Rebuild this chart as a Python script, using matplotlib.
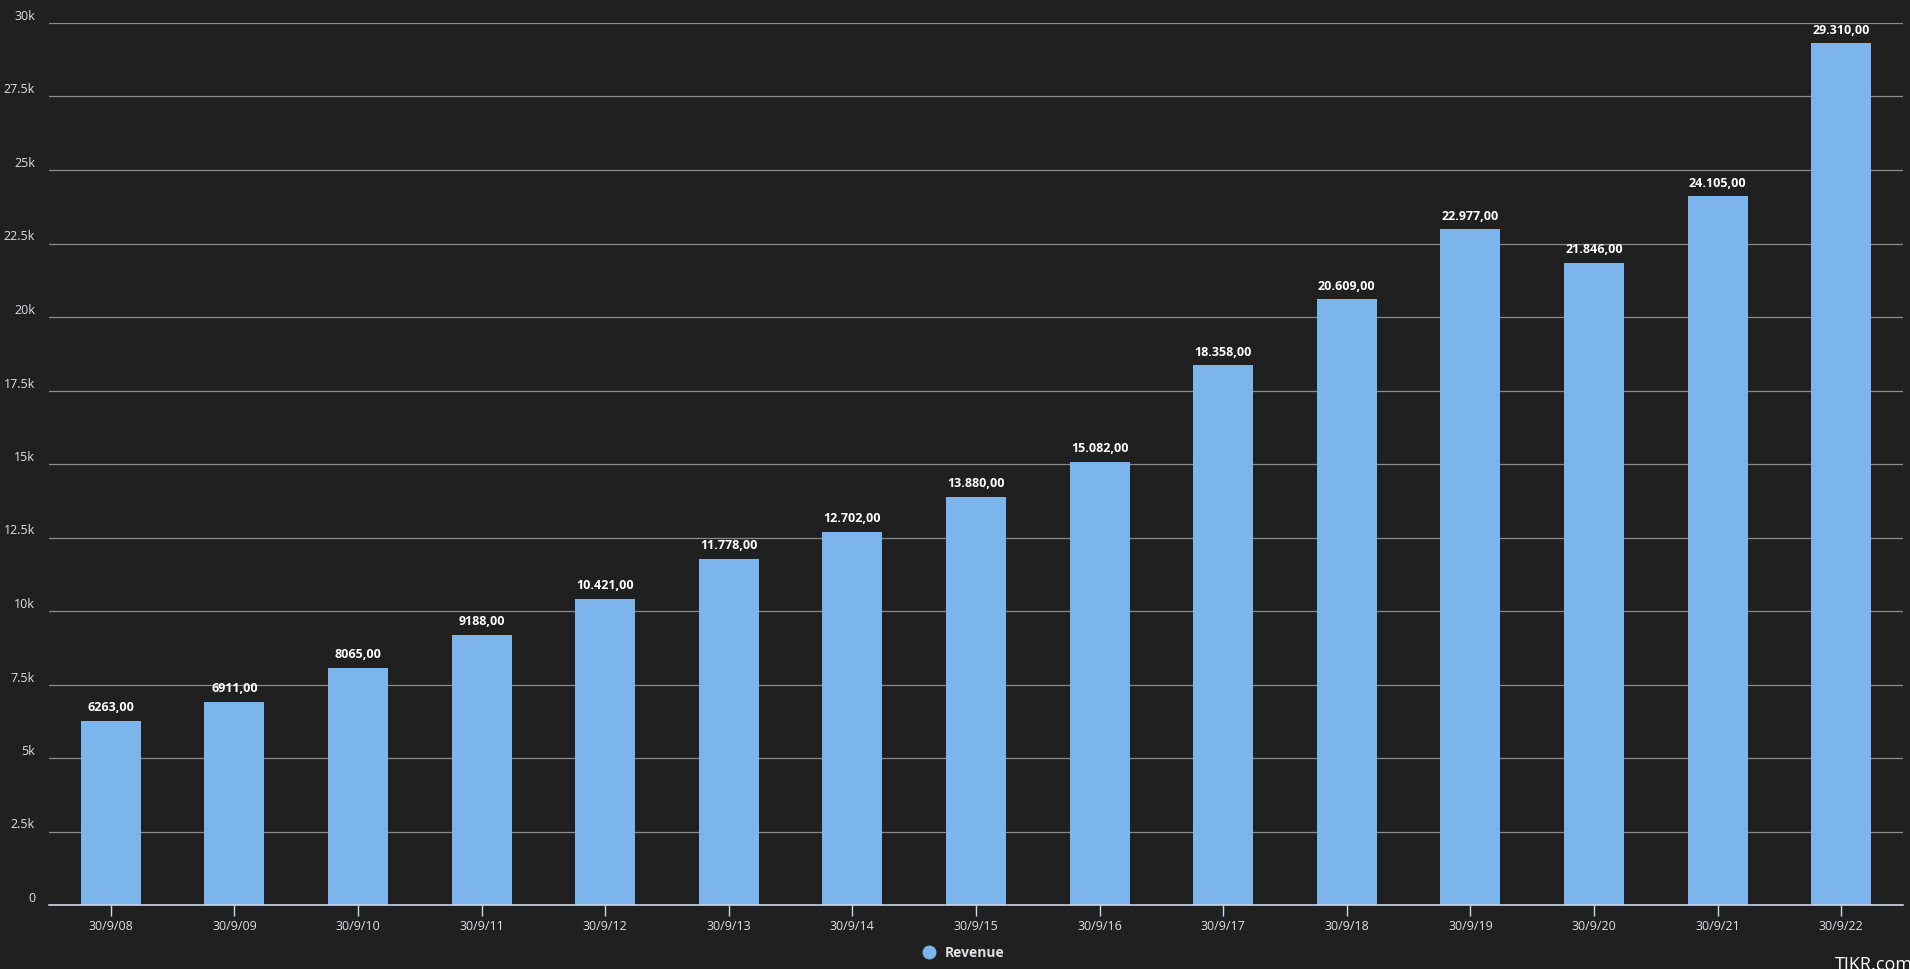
import matplotlib.pyplot as plt
import numpy as np

dates = ['30/9/08', '30/9/09', '30/9/10', '30/9/11', '30/9/12', '30/9/13', '30/9/14', '30/9/15',
         '30/9/16', '30/9/17', '30/9/18', '30/9/19', '30/9/20', '30/9/21', '30/9/22']
revenue = [6263, 6911, 8065, 9188, 10421, 11778, 12702, 13880,
           15082, 18358, 20609, 22977, 21846, 24105, 29310]
y_ticks = [0, 2500, 5000, 7500, 10000, 12500, 15000, 17500, 20000, 22500, 25000, 27500, 30000]
y_tick_labels = ['0', '2.5k', '5k', '7.5k', '10k', '12.5k', '15k', '17.5k', '20k', '22.5k', '25k', '27.5k', '30k']

bg = '#202020'
bar_color = '#7cb5ec'
text_color = '#e0e0e3'

def fmt(v):
    # german style: thousands with dot, decimals with comma (no dot below 10k)
    if v < 10000:
        return '%d,00' % v
    return '{:,}'.format(v).replace(',', '.') + ',00'

plt.rcParams['font.family'] = ['Open Sans', 'DejaVu Sans']
fig = plt.figure(figsize=(19.10, 9.69), dpi=100, facecolor=bg)
ax = fig.add_axes([49 / 1910, 1 - 905 / 969, 1854 / 1910, 882 / 969])
ax.set_facecolor(bg)

x = np.arange(len(dates))
ax.bar(x, revenue, width=0.485, color=bar_color, zorder=3, label='Revenue')
for xi, v in zip(x, revenue):
    ax.text(xi, v + 220, fmt(v), ha='center', va='bottom', color='white',
            fontsize=9, fontweight='bold', zorder=4)

ax.set_xlim(-0.5, len(dates) - 0.5)
ax.set_ylim(0, 30000)
ax.set_yticks(y_ticks)
ax.set_yticklabels(y_tick_labels)
ax.set_xticks(x)
ax.set_xticklabels(dates)
ax.grid(axis='y', color='#8a8a8a', linewidth=0.9, zorder=0)
ax.tick_params(axis='y', length=0, pad=10, colors=text_color, labelsize=9)
ax.tick_params(axis='x', length=8, width=1, color='#ccd6eb', colors=text_color, labelsize=9, pad=3)
for lbl in ax.get_yticklabels():
    lbl.set_verticalalignment('bottom')
for s in ['top', 'right', 'left']:
    ax.spines[s].set_visible(False)
ax.spines['bottom'].set_color('#ccd6eb')
ax.spines['bottom'].set_linewidth(1.2)
ax.spines['bottom'].set_zorder(5)

leg = fig.legend(handles=[plt.Line2D([], [], marker='o', linestyle='', color=bar_color, markersize=9)],
                 labels=['Revenue'], loc='center', bbox_to_anchor=(960 / 1910, 1 - 953 / 969),
                 frameon=False, handletextpad=0.1, prop={'size': 10, 'weight': 'bold'})
for t in leg.get_texts():
    t.set_color(text_color)

fig.text(1835 / 1910, 1 - 974 / 969, 'TIKR.com', color='white', fontsize=13, ha='left', va='bottom')

fig.savefig('out.png', dpi=100, facecolor=bg)
